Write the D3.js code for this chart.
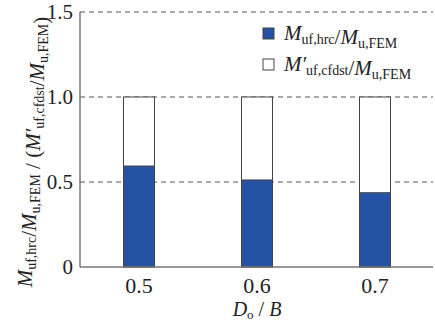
<!DOCTYPE html>
<html lang="en">
<head>
<meta charset="UTF-8">
<title>Moment ratio</title>
<script src="https://d3js.org/d3.v7.min.js"></script>
<style>
    body { margin: 0; background: #fff; }
</style>
</head>
<body>
<script>
    const width = 435;
    const height = 323;

    const ratios = ["0.5", "0.6", "0.7"];
    const hrcValues = [0.594, 0.512, 0.437];
    const cfdstValues = [1.0, 1.0, 1.0];
    const yTicks = [0, 0.5, 1.0, 1.5];
    const blue = "#2652a3";
    const serif = '"Liberation Serif", serif';

    const margin = {left: 80, right: 2, top: 12, bottom: 56};

    const svg = d3.select("body").append("svg")
        .attr("width", width).attr("height", height)
        .style("font-family", serif);

    const x = d3.scalePoint()
        .domain(ratios)
        .range([139, 375]);

    const y = d3.scaleLinear()
        .domain([0, 1.5])
        .range([height - margin.bottom, margin.top]);

    const barW = 31;

    // dashed grid
    svg.selectAll("line.grid")
        .data(yTicks.filter(d => d > 0))
        .enter().append("line")
        .attr("class", "grid")
        .attr("x1", margin.left).attr("x2", width - margin.right)
        .attr("y1", d => y(d)).attr("y2", d => y(d))
        .style("stroke", "#555")
        .style("stroke-dasharray", "5,4")
        .style("stroke-width", 1);

    // white (cfdst) bars
    svg.selectAll("rect.cfdst")
        .data(cfdstValues)
        .enter().append("rect")
        .attr("class", "cfdst")
        .attr("x", (d, i) => x(ratios[i]) - barW / 2)
        .attr("y", d => y(d))
        .attr("width", barW)
        .attr("height", d => y(0) - y(d))
        .style("fill", "#fff")
        .style("stroke", "#444")
        .style("stroke-width", 1);

    // blue (hrc) bars
    svg.selectAll("rect.hrc")
        .data(hrcValues)
        .enter().append("rect")
        .attr("class", "hrc")
        .attr("x", (d, i) => x(ratios[i]) - barW / 2)
        .attr("y", d => y(d))
        .attr("width", barW)
        .attr("height", d => y(0) - y(d))
        .style("fill", blue)
        .style("stroke", "#444")
        .style("stroke-width", 1);

    // axes lines
    svg.append("line")
        .attr("x1", margin.left).attr("x2", margin.left)
        .attr("y1", y(1.5)).attr("y2", y(0))
        .style("stroke", "#777").style("stroke-width", 1.5);
    svg.append("line")
        .attr("x1", margin.left).attr("x2", width - margin.right)
        .attr("y1", y(0)).attr("y2", y(0))
        .style("stroke", "#777").style("stroke-width", 1.5);

    // y tick labels
    svg.selectAll("text.ytick")
        .data(yTicks)
        .enter().append("text")
        .attr("class", "ytick")
        .attr("x", 73)
        .attr("y", d => y(d) + 7)
        .attr("text-anchor", "end")
        .style("font-family", serif)
        .style("font-size", "21px")
        .style("fill", "#222")
        .text(d => d === 0 ? "0" : d3.format(".1f")(d));

    // x tick labels
    svg.selectAll("text.xtick")
        .data(ratios)
        .enter().append("text")
        .attr("class", "xtick")
        .attr("x", d => x(d))
        .attr("y", 293)
        .attr("text-anchor", "middle")
        .style("font-family", serif)
        .style("font-size", "22px")
        .style("fill", "#222")
        .text(d => d);

    // x axis title
    const xt = svg.append("text")
        .attr("x", 257).attr("y", 316)
        .attr("text-anchor", "middle")
        .style("font-family", serif)
        .style("font-size", "20px")
        .style("fill", "#222");
    xt.append("tspan").style("font-style", "italic").text("D");
    xt.append("tspan").attr("dy", 3).style("font-size", "13px").text("o");
    xt.append("tspan").attr("dy", -3).text(" / ");
    xt.append("tspan").style("font-style", "italic").text("B");

    // helper for M with subscript (and optional prime)
    function mTerm(t, sub, prime) {
        t.append("tspan").style("font-style", "italic").text(prime ? "M\u2032" : "M");
        t.append("tspan").attr("dy", 4).style("font-size", "14px").text(sub);
        t.append("tspan").attr("dy", -4).text("");
    }

    // y axis title
    const yt = svg.append("text")
        .attr("transform", "translate(32,152) rotate(-90)")
        .attr("text-anchor", "middle")
        .style("font-family", serif)
        .style("font-size", "21px")
        .style("fill", "#222");
    mTerm(yt, "uf,hrc");
    yt.append("tspan").text("/");
    mTerm(yt, "u,FEM");
    yt.append("tspan").text(" / (");
    mTerm(yt, "uf,cfdst", true);
    yt.append("tspan").text("/");
    mTerm(yt, "u,FEM");
    yt.append("tspan").text(")");

    // legend
    const legend = [
        {sub: "uf,hrc", prime: false, fill: blue},
        {sub: "uf,cfdst", prime: true, fill: "#fff"}
    ];
    const lg = svg.selectAll("g.legend")
        .data(legend)
        .enter().append("g")
        .attr("class", "legend")
        .attr("transform", (d, i) => `translate(263,${28 + i * 31})`);
    lg.append("rect")
        .attr("width", 11).attr("height", 11)
        .style("fill", d => d.fill)
        .style("stroke", "#444");
    lg.each(function(d) {
        const t = d3.select(this).append("text")
            .attr("x", 21).attr("y", 12)
            .style("font-family", serif)
            .style("font-size", "21px")
            .style("fill", "#222");
        mTerm(t, d.sub, d.prime);
        t.append("tspan").text("/");
        mTerm(t, "u,FEM");
    });
</script>
</body>
</html>
